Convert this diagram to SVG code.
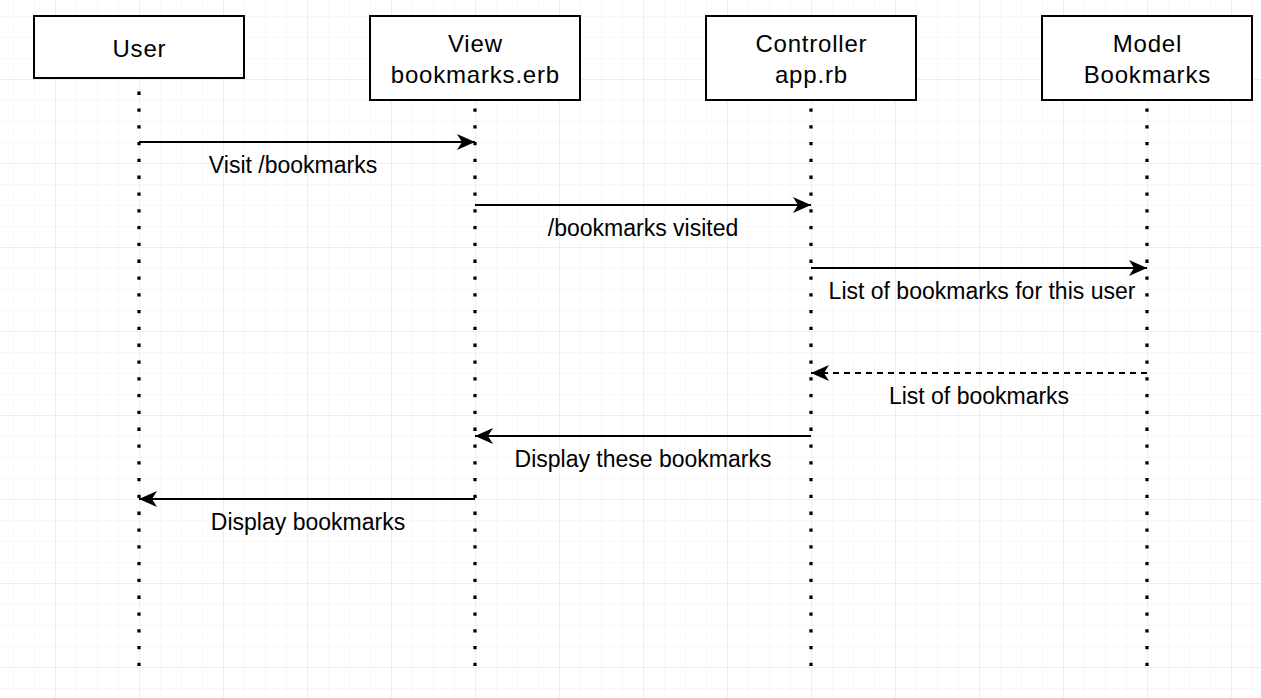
<svg xmlns="http://www.w3.org/2000/svg" width="1261" height="698" viewBox="0 0 1261 698">
  <defs>
    <pattern id="minor" x="13" y="16" width="21" height="21" patternUnits="userSpaceOnUse">
      <path d="M0 0H21M0 0V21" fill="none" stroke="#f2f2f2" stroke-width="1"/>
    </pattern>
    <pattern id="major" x="55" y="79" width="84" height="84" patternUnits="userSpaceOnUse">
      <path d="M0 0H84M0 0V84" fill="none" stroke="#e2e2e2" stroke-width="1"/>
    </pattern>
    <marker id="arrow" markerUnits="userSpaceOnUse" markerWidth="20" markerHeight="18" refX="18" refY="8" orient="auto">
      <path d="M0 0L18 8L0 16L5 8Z" fill="#000"/>
    </marker>
  </defs>
  <style>
    .box { fill: #fff; stroke: #000; stroke-width: 2; }
    .lbl { font-family: "Liberation Sans", Arial, sans-serif; font-size: 24px; letter-spacing: 0.8px; fill: #000; text-anchor: middle; }
    .elbl { font-family: "Liberation Sans", Arial, sans-serif; font-size: 23px; fill: #000; text-anchor: middle; }
    .life { stroke: #000; stroke-width: 3.3; stroke-dasharray: 3.3 13.5; fill: none; }
    .msg { stroke: #000; stroke-width: 2; fill: none; marker-end: url(#arrow); }
    .dash { stroke-dasharray: 6 5; }
  </style>
  <rect width="1261" height="698" fill="#fff"/>
  <rect width="1261" height="698" fill="url(#minor)"/>
  <rect width="1261" height="698" fill="url(#major)"/>

  <g id="lifelines">
    <line class="life" x1="139" y1="91.6" x2="139" y2="668"/>
    <line class="life" x1="475" y1="108.4" x2="475" y2="668"/>
    <line class="life" x1="811" y1="108.4" x2="811" y2="668"/>
    <line class="life" x1="1147" y1="108.4" x2="1147" y2="668"/>
  </g>

  <g id="node-user">
    <rect class="box" x="34" y="16" width="210" height="62"/>
    <text class="lbl" x="139.4" y="57">User</text>
  </g>
  <g id="node-view">
    <rect class="box" x="370" y="16" width="210" height="84"/>
    <text class="lbl" x="475.4" y="52">View</text>
    <text class="lbl" x="475.4" y="83">bookmarks.erb</text>
  </g>
  <g id="node-controller">
    <rect class="box" x="706" y="16" width="210" height="84"/>
    <text class="lbl" x="811.4" y="52">Controller</text>
    <text class="lbl" x="811.4" y="83">app.rb</text>
  </g>
  <g id="node-model">
    <rect class="box" x="1042" y="16" width="210" height="84"/>
    <text class="lbl" x="1147.4" y="52">Model</text>
    <text class="lbl" x="1147.4" y="83">Bookmarks</text>
  </g>

  <g id="connectors">
    <line class="msg" x1="139" y1="142" x2="475" y2="142"/>
    <text class="elbl" x="293" y="173">Visit /bookmarks</text>
    <line class="msg" x1="475" y1="205" x2="811" y2="205"/>
    <text class="elbl" x="643" y="236">/bookmarks visited</text>
    <line class="msg" x1="811" y1="268" x2="1147" y2="268"/>
    <text class="elbl" x="982" y="299">List of bookmarks for this user</text>
    <line class="msg dash" x1="1147" y1="373" x2="811" y2="373"/>
    <text class="elbl" x="979" y="404">List of bookmarks</text>
    <line class="msg" x1="811" y1="436" x2="475" y2="436"/>
    <text class="elbl" x="643" y="467">Display these bookmarks</text>
    <line class="msg" x1="475" y1="499" x2="139" y2="499"/>
    <text class="elbl" x="308" y="530">Display bookmarks</text>
  </g>
</svg>
